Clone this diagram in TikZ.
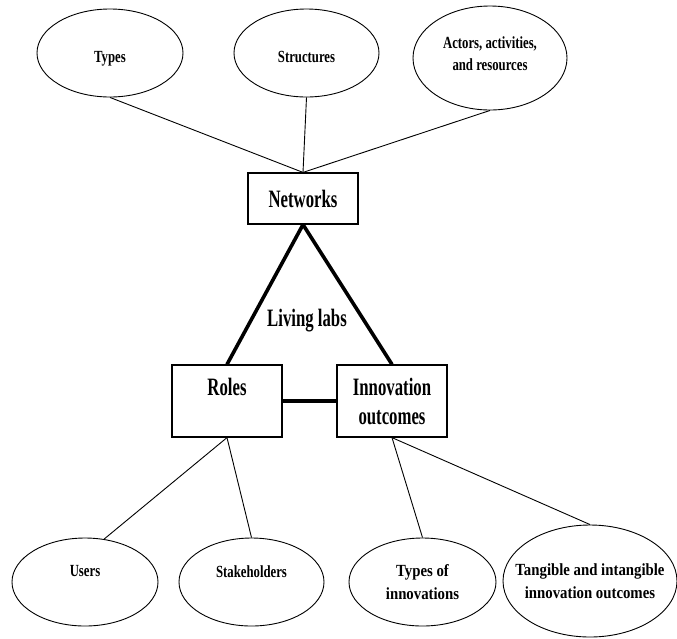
\documentclass[tikz,border=0pt]{standalone}
\usepackage{fontspec}
\setmainfont{Liberation Serif}
% condensed bold serif faces at three widths
\newfontfamily\narrowA{Liberation Serif}[FakeStretch=0.67]
\newfontfamily\narrowB{Liberation Serif}[FakeStretch=0.75]
\newfontfamily\narrowC{Liberation Serif}[FakeStretch=0.87]
\usetikzlibrary{shapes.geometric}

\tikzset{
  bigtext/.style={font=\narrowA\bfseries\fontsize{25}{29}\selectfont, align=center},
  smalltext/.style={font=\narrowB\bfseries\fontsize{17}{22}\selectfont, align=center},
  widetext/.style={font=\narrowC\bfseries\fontsize{17}{22.5}\selectfont, align=center},
  framebox/.style={draw, line width=1.2pt, inner sep=0pt, minimum width=110pt},
  bubble/.style={ellipse, draw, line width=0.9pt, inner sep=0pt},
  link/.style={line width=0.9pt},
  bond/.style={line width=3.6pt},
}

\begin{document}
\begin{tikzpicture}[x=1pt, y=-1pt]
\useasboundingbox (0,0) rectangle (677,638);

% top layer: network aspects
\node[bubble, minimum width=146pt, minimum height=88pt,
      label={[smalltext, yshift=-6pt]center:Types}] (types) at (110,53) {};
\node[bubble, minimum width=145pt, minimum height=88pt,
      label={[smalltext, yshift=-4pt]center:Structures}] (struct) at (306.5,53) {};
\node[bubble, minimum width=154pt, minimum height=104pt,
      label={[smalltext, yshift=4.5pt]center:{Actors, activities,\\and resources}}] (actors) at (490,58) {};

% central triangle
\node[framebox, minimum height=51pt, bigtext] (net) at (303,198.5) {Networks};
\node[framebox, minimum height=72pt, bigtext] (roles) at (227,401) {Roles\\\mbox{}};
\node[framebox, minimum height=72pt, bigtext] (innov) at (392,401) {Innovation\\outcomes};
\node[bigtext] (ll) at (307,321) {Living labs};

% bottom layer
\node[bubble, minimum width=146pt, minimum height=88pt,
      label={[smalltext, yshift=10.5pt]center:Users}] (users) at (85,582) {};
\node[bubble, minimum width=145pt, minimum height=88pt,
      label={[smalltext, yshift=10pt]center:Stakeholders}] (stake) at (251.5,582) {};
\node[bubble, minimum width=147pt, minimum height=88pt,
      label={[widetext]center:{Types of\\innovations}}] (tinnov) at (422.5,582) {};
\node[bubble, minimum width=174pt, minimum height=112pt,
      label={[widetext]center:{Tangible and intangible\\innovation outcomes}}] (tang) at (590,581) {};

% connectors
\draw[link] (types.south) -- (net.north);
\draw[link] (struct.south) -- (net.north);
\draw[link] (actors.south) -- (net.north);

\draw[bond] (net.south) -- (roles.north);
\draw[bond] (net.south) -- (innov.north);
\draw[bond] (roles.east) -- (innov.west);

\draw[link] (roles.south) -- (users.66);
\draw[link] (roles.south) -- (stake.north);
\draw[link] (innov.south) -- (tinnov.north);
\draw[link] (innov.south) -- (tang.north);
\end{tikzpicture}
\end{document}
